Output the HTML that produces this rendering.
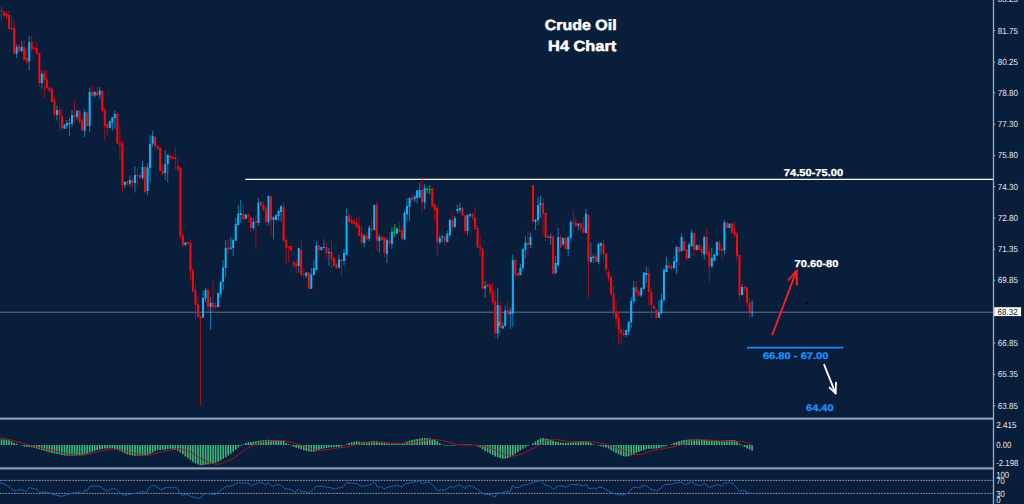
<!DOCTYPE html>
<html lang="en">
<head>
<meta charset="utf-8">
<title>Crude Oil H4 Chart</title>
<style>
html,body{margin:0;padding:0;background:#091e3b;}
body{width:1024px;height:504px;overflow:hidden;position:relative;}
svg{position:absolute;left:0;top:0;display:block;}
.ax text{font-family:"Liberation Sans","DejaVu Sans",sans-serif;font-size:8.8px;fill:#e2e6ee;text-rendering:geometricPrecision;}
.ann text{font-family:"Liberation Sans","DejaVu Sans",sans-serif;font-weight:bold;text-rendering:geometricPrecision;}
</style>
</head>
<body>
<svg width="1024" height="504" viewBox="0 0 1024 504">
<rect x="0" y="0" width="1024" height="504" fill="#091e3b"/>
<!-- current price line -->
<path d="M0 312.2H993" stroke="#64708a" stroke-width="1" fill="none"/>
<!-- resistance line -->
<path d="M245.3 179.45H993" stroke="#ffffff" stroke-width="1.25" fill="none"/>
<!-- candles -->
<g id="candles">
<path d="M1.5 5.6V20.6M4.02 10.6V17M6.54 11V19.4M9.06 11V29M11.58 16V30M14.09 20.6V54.4M19.13 45V52.5M24.17 40V60M26.69 48.75V63.75M31.73 35.6V52.5M34.24 47V50M36.76 42V54.4M39.28 53V87M44.32 70V98M46.84 70V89.4M49.36 87V93M51.88 88V102M54.39 97V118M59.43 107V131M61.95 109V130.6M74.55 101V124M79.58 110V124M82.1 118V131M87.14 112V126.5M92.18 84.4V96.5M97.21 86.9V96M102.25 90V112.5M104.77 107V140.6M107.29 123V135.6M117.36 112.5V144M119.88 125.6V158.75M122.4 140V192.5M127.44 180.5V186M132.48 178V188.75M137.52 168V187M140.03 174.5V178.75M145.07 166V193.75M155.15 136V150.6M157.67 145V150.6M160.18 147V171.5M162.7 165V175M170.26 155V160.6M172.78 154V159M175.3 148V170M177.82 158.75V172M180.33 167V238.75M182.85 233V247.5M187.89 241.5V244M190.41 240V281M192.93 268V293M195.45 285V320M197.97 296V317.5M200.49 315.5V405.6M208.04 288V312.5M213.08 280.6V312M215.6 302.5V309M228.19 239.4V253.75M243.3 205V220M248.34 212.5V222M250.86 216.5V232.5M255.9 216V249.4M260.94 201.5V206M263.46 201V212M265.97 205.6V226M271.01 196V235M283.61 203V242.5M286.12 238V264.4M288.64 245.5V262M291.16 245.5V251M293.68 261.5V268.75M296.2 259.4V273.75M301.24 240V277M303.76 268.75V278M308.79 272V290M318.87 245V257M326.43 242.5V258.75M331.46 240V268M333.98 255.6V266.5M336.5 263V268.5M341.54 259V276M349.09 213V222.5M351.61 215.5V224M354.13 218.75V225.6M356.65 218V228M359.17 216.75V236M361.69 225V245.6M366.73 232V240M371.76 218.6V231.75M376.8 201.75V250.6M381.84 236V240.5M384.36 237V258M389.4 231.75V247M399.47 222.4V232M401.99 225.5V241M412.06 194.25V201.75M422.14 177V211.75M432.21 188V208M434.73 203.6V220.5M437.25 206V256.25M444.81 236V246.25M452.37 213V231M462.44 207V216M464.96 215V233.75M472.52 213V219.9M475.03 206.75V229.5M477.55 225V248M480.07 234.4V256.25M482.59 248V290.5M487.63 283.5V287M490.15 283V295M492.67 283V304.9M495.18 290.5V338.6M500.22 301.75V328.5M507.78 301V319.25M515.34 259V277.5M517.85 272.5V276.5M527.93 231.25V254.5M532.97 185V222.5M543.04 198V235M545.56 212.5V241M548.08 235V238.5M553.12 236V274.5M560.67 235V248M565.71 236.25V250M573.27 210V235M575.79 217V227M580.82 222.5V231.25M583.34 217V233M588.38 214.4V297.75M595.94 252.6V262.5M603.49 240V261.4M606.01 253V274.5M608.53 269.5V280.75M611.05 276.5V295.6M613.57 286V317M616.09 302V326M618.61 312V344.4M621.12 327.5V344.75M623.64 329.4V337M636.24 281.25V296.25M638.76 290.75V297M648.83 267.5V306.25M651.35 288.75V318M653.87 303.75V309M656.39 309V319.4M668.98 261.9V268.5M671.5 263.75V269.75M679.06 246.5V265.6M684.09 241V251M686.61 249V260M694.17 232V256.25M699.21 243.75V250.5M701.73 246.25V256.9M706.76 227.5V256M709.28 246.25V281.9M719.36 240.6V255M721.88 246.25V259.4M726.91 221.9V228.5M731.95 223.25V233.5M734.47 221.9V237M736.99 231.9V260M739.51 254.5V299.4M744.55 285V291.25M747.06 287V307.5M749.58 298V317.5" stroke="#ff0505" stroke-width="1.0" stroke-opacity="0.62" fill="none"/>
<path d="M16.61 44.4V58M21.65 41V52.5M29.21 36V70.6M41.8 70.6V88.75M56.91 105.6V120M64.47 124V129M66.99 120V128.75M69.51 118V136M72.03 110V127M77.06 110V120M84.62 109.4V137M89.66 87.5V132M94.7 91V97.5M99.73 86.9V99.4M109.81 120.5V128.5M112.33 117V130.6M114.85 110.6V128.75M124.92 181V188M129.96 175.6V187M135 166V192.5M142.55 161V180M147.59 163V195M150.11 135V182.5M152.63 131V147M165.22 150V180M167.74 153.75V182.5M185.37 242V246.25M203 291V318M205.52 288V302M210.56 297.5V330M218.12 292V307.5M220.64 280.6V297M223.15 260V290M225.67 240V277M230.71 237V249.5M233.23 238.75V255.6M235.75 218V241M238.27 205V225.5M240.79 200V223M245.82 214V219M253.38 218V230.6M258.42 198V225.6M268.49 195.5V225.6M273.53 216.5V239.4M276.05 214.5V220.5M278.57 210V220.6M281.09 205.5V221M298.72 247.5V272.5M306.27 272V278M311.31 268V289M313.83 260V275.5M316.35 242V270.5M321.39 246.5V250.5M323.91 239.4V248.5M328.94 248V266M339.02 255V268.75M344.06 248.75V265M346.58 208.75V255.6M364.21 233.6V247M369.24 225V241M374.28 204.5V230.5M379.32 234V252.5M386.88 237.5V263M391.91 227.4V248.75M396.95 226.75V234M404.51 211V240M407.03 198V221.75M409.55 197.5V221M414.58 195V201.75M417.1 190V203.6M419.62 183V198M424.66 184.25V209.25M439.77 235V244.4M442.29 235.5V242M447.33 230.6V242.5M449.85 219V237.4M454.88 216V228.6M457.4 204.9V213.6M459.92 203V213M467.48 214.5V235M470 213.5V218M485.11 281V298M497.7 288V339.25M502.74 322.4V329M505.26 305.5V326.5M510.3 307.4V329.25M512.82 254.4V326.75M520.37 263.9V275.5M522.89 248.5V270.7M525.41 236V258M530.45 232.5V248M535.49 219V230M538 197V225M540.52 195.6V217.5M550.6 233.75V245M555.64 255.75V274.5M558.15 228V267M563.19 237.5V245.75M568.23 236.5V256.4M570.75 220V240.75M578.31 223V230M585.86 208.75V233.5M590.9 242.6V262.5M593.42 254.5V262.6M598.46 242.6V264.5M600.97 242V254.5M626.16 329.5V337M628.68 321.5V335M631.2 297.5V328M633.72 281V303.75M641.28 287V297.5M643.79 272V290M646.31 266.9V282.5M658.91 300.6V318M661.43 293V315M663.94 267.5V301.9M666.46 256.9V272.5M674.02 255.6V269.4M676.54 245.6V273.75M681.58 233.75V251.75M689.13 242.5V258.5M691.65 229.4V246.75M696.69 244.5V250.5M704.25 235.6V259.4M711.8 248V268M714.32 254V261M716.84 241.5V256M724.4 220V254.4M729.43 223.25V228.5M742.03 283.75V295.5" stroke="#08b6ff" stroke-width="1.0" stroke-opacity="0.62" fill="none"/>
<path d="M394.43 224.25V236.75M427.18 186.75V193M429.7 184.9V194.25" stroke="#14b414" stroke-width="1.0" stroke-opacity="0.9" fill="none"/>
<path d="M752.1 300.6V316.9" stroke="#08b6ff" stroke-width="1.0" stroke-opacity="0.9" fill="none"/>
<path d="M1.5 10.5V11.5M4.02 12.5V15.6M6.54 13.75V15.6M9.06 15V28.75M11.58 27.75V29.4M14.09 28V53.75M19.13 45.6V51M24.17 46.9V60M26.69 58V62.5M31.73 41.9V49.4M34.24 47.5V49M36.76 48V53.75M39.28 53V83M44.32 73V80M46.84 79.4V88M49.36 87.5V90.6M51.88 88.75V101.9M54.39 100.6V114.4M59.43 110V116M61.95 116V128M74.55 115V117M79.58 110.6V122M82.1 120.6V130.6M87.14 112.5V126M92.18 91.9V96M97.21 91.9V95.6M102.25 90.6V111M104.77 110V126M107.29 124V128M117.36 113.75V143.75M119.88 143V145M122.4 143.75V185.6M127.44 181V184.4M132.48 180V183M137.52 175V176M140.03 175V178M145.07 167V192M155.15 137V146M157.67 146V148.75M160.18 147.5V171M162.7 170.6V173.75M170.26 156V158M172.78 157V158.75M175.3 157.5V159M177.82 166V169M180.33 168V235.6M182.85 235.6V245M187.89 242V243.75M190.41 243V270.6M192.93 270.6V291.25M195.45 290.6V305M197.97 304.4V317M200.49 316V318.75M208.04 290V307M213.08 302.5V307M215.6 305V307M228.19 247.5V250M243.3 213.75V219.4M248.34 215V217M250.86 217V228M255.9 221V222.75M260.94 202V205.6M263.46 205V210M265.97 208.75V222M271.01 196.25V220M283.61 207V240.6M286.12 240V247.5M288.64 246V247.5M291.16 246V250.6M293.68 262V265M296.2 263.75V266.5M301.24 250V275M303.76 273.4V274.4M308.79 272.5V288.75M318.87 245.6V250M326.43 247V253M331.46 252V259.4M333.98 258V266M336.5 264.4V268M341.54 259.4V261M349.09 215V222M351.61 219.4V223.5M354.13 222V224M356.65 222.5V227.4M359.17 225.5V235.75M361.69 233.6V242.5M366.73 235.5V239.4M371.76 228.6V230.5M376.8 205V240.6M381.84 236.5V240M384.36 237.75V253M389.4 240.6V243.75M399.47 229.25V231.75M401.99 230.5V238.75M412.06 197.4V200M422.14 190V202.4M432.21 188.6V206M434.73 204.9V209.9M437.25 208V241.9M444.81 236.25V241.25M452.37 219.9V227.4M462.44 207.4V215.5M464.96 215.5V231M472.52 214.25V216.75M475.03 217.4V229M477.55 228V247.5M480.07 246.9V248.75M482.59 248.75V288.6M487.63 284V286.75M490.15 285.5V292.4M492.67 291.75V301.75M495.18 301V333M500.22 305.5V328M507.78 309.9V314.25M515.34 259.5V274.2M517.85 272.8V276M527.93 242.5V245M532.97 185.25V222M543.04 203V213.75M545.56 213V237.5M548.08 235.6V238M553.12 236.4V273.9M560.67 237V247.6M565.71 238V249M573.27 222V223.2M575.79 222.5V226.25M580.82 223V228M583.34 227.5V232.5M588.38 215V261.4M595.94 256.4V262M603.49 243.9V253.9M606.01 253.25V269.5M608.53 272V277.6M611.05 277V294.2M613.57 293.5V311.25M616.09 311.25V318.75M618.61 317.5V330M621.12 329.4V333M623.64 333V335M636.24 287V292M638.76 291.25V295.6M648.83 273V292M651.35 292V305M653.87 306V308.75M656.39 309.4V317.5M668.98 265.6V268M671.5 266.25V268.5M679.06 246.9V251.9M684.09 241.25V250.6M686.61 249.4V258.75M694.17 233V250M699.21 245V250M701.73 248.75V253M706.76 236.9V253.75M709.28 251.9V266.25M719.36 242.2V250M721.88 248.75V251M726.91 222.5V228M731.95 223.75V233M734.47 231.9V234.7M736.99 233.75V256.25M739.51 255V295M744.55 286.9V288.2M747.06 287.5V303M749.58 303V313" stroke="#ff0505" stroke-width="2.0" fill="none"/>
<path d="M16.61 46.9V53.75M21.65 46.9V51M29.21 41.9V61.25M41.8 73.75V83M56.91 110V115M64.47 125V128.75M66.99 123V125.6M69.51 122.75V124.4M72.03 115V123.75M77.06 111V117M84.62 112V131M89.66 91.9V126M94.7 91.9V95.6M99.73 90.6V95M109.81 121V128M112.33 117.5V122.5M114.85 114V118M124.92 182V185M129.96 180V183.75M135 175V183M142.55 167V178M147.59 167.5V191M150.11 143.75V168M152.63 136V143.75M165.22 164V173M167.74 155V164M185.37 242.5V245M203 298V317.5M205.52 290V298.75M210.56 303V307M218.12 293V307M220.64 282V293.75M223.15 267.5V282M225.67 248V268M230.71 247.5V249M233.23 240V248M235.75 223.75V240.6M238.27 213.75V225M240.79 213V215M245.82 214.4V218.75M253.38 222V228M258.42 202.5V223M268.49 196V222M273.53 217V220M276.05 215V220M278.57 211V216M281.09 206V212M298.72 248V266M306.27 272.5V276M311.31 274.4V288.75M313.83 268V275M316.35 245.6V270M321.39 247V250M323.91 247V248M328.94 252V253M339.02 259.4V267.5M344.06 253V261M346.58 216V254.4M364.21 235.75V243M369.24 227.4V238.75M374.28 205V230M379.32 236.75V241M386.88 240V253.75M391.91 231.75V243.75M396.95 228.6V233.6M404.51 213V239.4M407.03 206V214.25M409.55 198V206.75M414.58 196.75V199.25M417.1 190.5V198M419.62 190V197.4M424.66 188V202.4M439.77 238V242.5M442.29 236.25V237.5M447.33 233.75V241.9M449.85 219.9V235M454.88 218V226.75M457.4 209V211M459.92 208V209.9M467.48 214.9V231M470 214V215.5M485.11 286V288.6M497.7 304.9V333.6M502.74 326V328.6M505.26 310.5V326M510.3 311.75V314.25M512.82 260V313.6M520.37 267.8V275M522.89 248.9V268M525.41 242.5V250M530.45 237V245M535.49 219.4V222M538 205V220M540.52 203V205M550.6 237V238M555.64 263V273M558.15 237V265M563.19 238V244.5M568.23 237V249M570.75 222V237.6M578.31 223.75V225.6M585.86 213.75V233M590.9 257V262M593.42 256.4V258M598.46 243.9V262M600.97 243.25V245.75M626.16 330V335M628.68 322V331.25M631.2 300.6V322.5M633.72 287.5V301.25M641.28 288V295.6M643.79 272.5V288.75M646.31 273V275M658.91 311.9V317.75M661.43 299.4V313M663.94 270V300M666.46 265V271.9M674.02 261.25V268M676.54 246.9V261.9M681.58 236.9V251.25M689.13 244.4V258M691.65 232.5V246.25M696.69 245V250M704.25 236.9V254.4M711.8 258V266.25M714.32 254.4V260.6M716.84 241.9V255.6M724.4 222.5V250.6M729.43 223.75V228M742.03 286.9V295" stroke="#08b6ff" stroke-width="2.0" fill="none"/>
<path d="M393.23 232.4h2.4M425.98 189.5h2.4M428.5 189.5h2.4" stroke="#14b414" stroke-width="0.9" fill="none"/>
<path d="M750.9 312.25h2.4" stroke="#08b6ff" stroke-width="0.9" fill="none"/>
</g>
<rect x="498.5" y="321.8" width="1.1" height="4" fill="#d8b430" fill-opacity="0.85"/>
<!-- support line -->
<path d="M747 347.7H843.3" stroke="#1e8cf5" stroke-width="1.7" fill="none"/>
<!-- arrows -->
<g stroke="#f81e24" stroke-width="1.85" fill="none" stroke-linecap="round" stroke-linejoin="round">
<path d="M772.4 334.6L796.7 270.4"/>
<path d="M788.5 279.9L796.7 270.4L796.9 284.7"/>
</g>
<g stroke="#ffffff" stroke-width="1.85" fill="none" stroke-linecap="round" stroke-linejoin="round">
<path d="M824.2 364.8L835.6 393.4"/>
<path d="M829.6 387.6L835.6 393.4L836 382.6"/>
</g>
<circle cx="806.9" cy="302.9" r="1.05" fill="#000000"/>
<!-- MACD -->
<path d="M1.5 445V439.32M4.02 445V439.57M6.54 445V439.82M9.06 445V440.36M11.58 445V441.62M14.09 445V442.88M16.61 445V443.87M21.65 445V445.55M24.17 445V446.39M26.69 445V446.84M29.21 445V447.09M31.73 445V447.34M34.24 445V447.77M36.76 445V448.53M39.28 445V449.28M41.8 445V450.04M44.32 445V450.8M46.84 445V451.55M49.36 445V452.31M51.88 445V452.88M54.39 445V453.38M56.91 445V453.88M59.43 445V454.39M61.95 445V454.89M64.47 445V455.39M66.99 445V455.83M69.51 445V455.83M72.03 445V455.83M74.55 445V455.73M77.06 445V455.52M79.58 445V455.31M82.1 445V455.1M84.62 445V454.52M87.14 445V453.57M89.66 445V452.63M92.18 445V451.68M94.7 445V450.74M97.21 445V449.89M99.73 445V449.39M102.25 445V448.88M104.77 445V448.62M107.29 445V448.53M109.81 445V448.45M112.33 445V448.37M114.85 445V448.9M117.36 445V449.85M119.88 445V450.79M122.4 445V452.03M124.92 445V453.29M127.44 445V454.36M129.96 445V454.99M132.48 445V455.62M135 445V455.83M137.52 445V455.83M140.03 445V455.83M142.55 445V455.66M145.07 445V455.15M147.59 445V454.65M150.11 445V454.1M152.63 445V452.52M155.15 445V450.95M157.67 445V449.97M160.18 445V449.88M162.7 445V449.8M165.22 445V449.71M167.74 445V449.34M170.26 445V448.72M172.78 445V449.22M175.3 445V449.73M177.82 445V450.77M180.33 445V452.45M182.85 445V454.32M185.37 445V456.42M187.89 445V458.32M190.41 445V460M192.93 445V461.67M195.45 445V463.35M197.97 445V464.51M200.49 445V465.18M203 445V465.28M205.52 445V464.86M208.04 445V464.46M210.56 445V464.08M213.08 445V463.7M215.6 445V462.7M218.12 445V461.63M220.64 445V460.44M223.15 445V458.86M225.67 445V457.29M228.19 445V455.52M230.71 445V453.63M233.23 445V451.74M235.75 445V449.65M238.27 445V447.56M240.79 445V445.66M243.3 445V444.18M245.82 445V442.92M248.34 445V442.29M250.86 445V441.98M253.38 445V441.66M255.9 445V441.26M258.42 445V440.85M260.94 445V440.45M263.46 445V440.15M265.97 445V439.9M268.49 445V439.68M271.01 445V439.88M273.53 445V440.08M276.05 445V440.28M278.57 445V440.48M281.09 445V440.66M283.61 445V441.04M286.12 445V442.93M288.64 445V444.32M291.16 445V445.58M293.68 445V446.84M296.2 445V447.86M298.72 445V448.62M301.24 445V449.37M303.76 445V450.11M306.27 445V450.74M308.79 445V451.37M311.31 445V451.67M313.83 445V451.67M316.35 445V450.99M318.87 445V449.73M321.39 445V448.89M323.91 445V448.39M326.43 445V447.88M328.94 445V447.46M331.46 445V447.31M333.98 445V447.16M336.5 445V447.01M339.02 445V447.12M341.54 445V446.5M344.06 445V445.41M346.58 445V444.21M349.09 445V442.95M351.61 445V442.22M354.13 445V441.78M356.65 445V441.34M359.17 445V441.67M361.69 445V442M364.21 445V441.87M366.73 445V441.75M369.24 445V441.55M371.76 445V441.24M374.28 445V440.92M376.8 445V441.28M379.32 445V441.91M381.84 445V442.53M384.36 445V442.97M386.88 445V443.41M389.4 445V443.61M391.91 445V443.49M394.43 445V443.36M396.95 445V443.33M399.47 445V443.33M401.99 445V443.23M404.51 445V442.39M407.03 445V441.56M409.55 445V440.8M412.06 445V440.05M414.58 445V439.42M417.1 445V438.91M419.62 445V438.41M422.14 445V438.23M424.66 445V438.1M427.18 445V438.04M429.7 445V438.24M432.21 445V438.93M434.73 445V440M437.25 445V441.22M439.77 445V442.9M442.29 445V444.48M444.81 445V445.74M447.33 445V445.83M449.85 445V445.83M452.37 445V445.83M454.88 445V445.57M462.44 445V444.45M464.96 445V444.29M467.48 445V444.23M470 445V444.17M477.55 445V446.44M480.07 445V447.55M482.59 445V449.23M485.11 445V450.89M487.63 445V452.15M490.15 445V453.42M492.67 445V454.93M495.18 445V456.39M497.7 445V457.23M500.22 445V458.04M502.74 445V458.55M505.26 445V458.41M507.78 445V458.07M510.3 445V457.28M512.82 445V455.39M515.34 445V453.67M517.85 445V451.99M520.37 445V450.31M522.89 445V448.63M525.41 445V447.29M527.93 445V446.04M532.97 445V443.29M535.49 445V441.38M538 445V439.86M540.52 445V438.54M543.04 445V437.91M545.56 445V438.43M548.08 445V439.1M550.6 445V439.92M553.12 445V440.76M555.64 445V441.41M558.15 445V442.04M560.67 445V442.55M563.19 445V442.74M565.71 445V442.93M568.23 445V442.69M570.75 445V442.18M573.27 445V441.68M575.79 445V441.48M578.31 445V441.29M580.82 445V441.17M583.34 445V441.17M585.86 445V441.17M588.38 445V441.91M590.9 445V443M593.42 445V444.21M598.46 445V445.81M600.97 445V446.36M603.49 445V446.87M606.01 445V447.37M608.53 445V448.56M611.05 445V449.98M613.57 445V451.47M616.09 445V452.99M618.61 445V454.3M621.12 445V455.56M623.64 445V456.16M626.16 445V456.58M628.68 445V456.16M631.2 445V455.23M633.72 445V453.97M636.24 445V452.87M638.76 445V451.92M641.28 445V450.98M643.79 445V450.14M646.31 445V449.32M648.83 445V448.67M651.35 445V448.67M653.87 445V448.67M656.39 445V448.42M658.91 445V447.98M661.43 445V447.54M663.94 445V446.74M666.46 445V445.9M671.5 445V444.25M674.02 445V442.99M676.54 445V442.01M679.06 445V441.2M681.58 445V440.56M684.09 445V440.12M686.61 445V439.68M689.13 445V439.54M691.65 445V439.42M694.17 445V439.29M696.69 445V439.17M699.21 445V439.42M701.73 445V439.67M704.25 445V439.92M706.76 445V440.18M709.28 445V440.43M711.8 445V440.68M714.32 445V440.83M716.84 445V440.83M719.36 445V440.83M721.88 445V440.81M724.4 445V440.49M726.91 445V440.18M729.43 445V440M731.95 445V440M734.47 445V440M736.99 445V441.49M739.51 445V443.68M742.03 445V445.6M744.55 445V446.92M747.06 445V448.49M749.58 445V449.5M752.1 445V450.65" stroke="#3cb878" stroke-width="1.6" fill="none"/>
<polyline points="0,437.5 10,439.67 20,442.5 30,445.33 40,447.5 50,450 60,452.17 70,454.5 76.67,455.33 85,455 93.33,452.83 101.67,450.5 111.67,449.17 118.33,449.17 126.67,451.33 135,453.33 143.33,455.33 150,455.33 158.33,452.83 168.33,450.33 170,450.5 175,448.67 181.67,449.17 190,451.67 196.67,455.83 203.33,460 211.67,463.67 220,464.17 226.67,461.33 233.33,458.33 240,453.33 246.67,448.67 253.33,445 260,442.5 270,440.83 278.33,440.33 284.17,440.5 290,442.17 298.33,444.17 306.67,447.5 315,450 321.67,450.5 330,449.17 338.33,447.83 340,447.83 346.67,447 353.33,445.33 360,443.67 368.33,442.5 375,442.17 383.33,442.17 390,443 398.33,443.67 406.67,443.33 413.33,442.5 421.67,440.83 430,439.5 436.67,439.5 443.33,440.83 450,442.5 456.67,444.5 465,445 473.33,445 481.67,445.5 488.33,447.5 495,450 501.67,453.33 506.67,455.33 510,456.33 516.67,455.5 523.33,453.33 530,450 536.67,446.67 543.33,442.5 549.17,439.67 556.67,439.67 565,440.83 571.67,442.17 580,442 588.33,441.33 596.67,442.5 605,444.17 613.33,446.67 621.67,450 628.33,452.83 634.17,454.67 641.67,454.5 648.33,451.67 655,450 663.33,448.67 671.67,447.17 679.17,445.33 680,445.33 686.67,442.5 695,440 703.33,439.67 713.33,440.33 723.33,441.33 733.33,441.33 741.67,441.33 746.67,442.5 752.5,445" stroke="#a8181c" stroke-width="0.95" fill="none" stroke-linejoin="round"/>
<!-- RSI -->
<path d="M0 480.4H993M0 493.4H993" stroke="#a6aab6" stroke-width="0.85" stroke-dasharray="1.7 1.08" fill="none"/>
<polyline points="0,482.5 5,484.17 10,487.5 14.17,490.83 17.5,490 21.67,489.67 25.83,491.67 29.17,487.5 33.33,488.67 36.67,489.17 40,492.83 42.5,491.67 48.33,492.83 55,495 61.67,496.33 66.67,495 73.33,492.83 78.33,492.17 82.5,493.67 85,490 86.67,491.17 90,486.33 95,486 100,486.33 103.33,489.17 106.67,491.17 110.83,489.17 115,488.33 118.33,491.67 123.33,495.33 128.33,494.5 133.33,493.67 138.33,492.83 142.5,491.33 145.83,493.33 149.17,487.5 152.5,485.33 156.67,486.67 160.83,489.67 165,488 169.17,487.17 170,487.83 176.67,487.5 179.17,491.67 181.67,495.33 186.67,494.5 191.67,496.67 196.67,498 200,498.33 203.33,494.17 208.33,493.67 215,494.67 220,490.83 225.83,486.67 231.67,485.83 238.33,482.5 243.33,483.33 246.67,482.5 251.67,485.33 255.83,484.17 259.17,482 263.33,483.33 265.83,485 268.33,483 272.5,486.33 276.67,484.67 280.83,484.67 284.17,488.67 290,489.17 295,492 298.33,489.17 301.67,491.67 305.83,491.67 309.17,492.83 313.33,489.17 316.67,486.33 321.67,486.17 326.67,487 331.67,488 335.83,489.17 339.17,487.5 340,488 343.33,486.67 346.67,482.5 351.67,483 356.67,483.67 361.67,486.33 366.67,485.83 371.67,484.17 374.17,481.67 377.5,487 380.83,486.67 384.17,488.83 390,486.67 397.5,485.33 402,487 405,483.67 411.67,482.5 418.33,480.83 422.5,483.33 426.67,482.17 430,482.5 433.33,485.83 437.5,490.83 441.67,489.67 445,490.33 450,486.33 452.5,487.83 459.17,484.5 465,488.33 468.33,485.83 472.5,486.17 478.33,490 483.33,494.17 490,494.5 495,497 497.5,492.5 500,493.67 505,491.67 509.17,491.67 510,492 512.5,485.33 515,487.5 518.33,487.5 523.33,485 528.33,484.17 533.33,482.5 538.33,480.83 541.67,481.17 545,485 550,486.17 553.33,489.5 558.33,485.83 563.33,486.17 565.83,487.17 570.83,484.5 578.33,484.5 583.33,485.83 585.83,484.17 589.17,488.83 593.33,488 595.83,488.83 599.17,487.17 602.5,487.5 608.33,490.83 613.33,493.33 618.33,494.67 623.33,495 628.33,492.83 632.5,487.83 635,487 638.33,488 643.33,485.5 646.67,485.83 650.83,489.17 656.67,490.83 660.83,488.33 665,484.5 671.67,484.17 676.67,482.5 679.17,482.5 680,482 685.83,484.67 691.33,482 695,484.5 700.83,485.5 704.17,483.33 709.67,487.5 717.5,484.5 721.67,486.17 725,482.5 727.5,483.33 729.67,482.5 734.17,484.67 739.67,491.67 742.5,490.33 745,490.83 748.33,492.83 751.67,493.33" stroke="#1b5eaa" stroke-width="1" fill="none" stroke-linejoin="round"/>
<!-- separators -->
<path d="M0 418.6H993M0 468.4H993" stroke="#9199ad" stroke-width="2.4" fill="none"/>
<!-- axis -->
<path d="M993.5 0V504" stroke="#a2aabd" stroke-width="1.3" fill="none"/>
<path d="M994 -0.8h1.2M994 30.5h1.2M994 62h1.2M994 93h1.2M994 124.2h1.2M994 155.3h1.2M994 186.6h1.2M994 218h1.2M994 249.2h1.2M994 280.2h1.2M994 343h1.2M994 374.3h1.2M994 405.8h1.2" stroke="#aab2c4" stroke-width="1" fill="none"/>
<rect x="994.2" y="307.2" width="26.9" height="8.9" fill="#ffffff"/>
<g class="ax">
<text x="997.7" y="2.2" textLength="20.2" lengthAdjust="spacingAndGlyphs">83.25</text>
<text x="997.7" y="33.5" textLength="20.2" lengthAdjust="spacingAndGlyphs">81.75</text>
<text x="997.7" y="65" textLength="20.2" lengthAdjust="spacingAndGlyphs">80.25</text>
<text x="997.7" y="96" textLength="20.2" lengthAdjust="spacingAndGlyphs">78.80</text>
<text x="997.7" y="127.2" textLength="20.2" lengthAdjust="spacingAndGlyphs">77.30</text>
<text x="997.7" y="158.3" textLength="20.2" lengthAdjust="spacingAndGlyphs">75.80</text>
<text x="997.7" y="189.6" textLength="20.2" lengthAdjust="spacingAndGlyphs">74.30</text>
<text x="997.7" y="221" textLength="20.2" lengthAdjust="spacingAndGlyphs">72.80</text>
<text x="997.7" y="252.2" textLength="20.2" lengthAdjust="spacingAndGlyphs">71.35</text>
<text x="997.7" y="283.2" textLength="20.2" lengthAdjust="spacingAndGlyphs">69.85</text>
<text x="997.7" y="346" textLength="20.2" lengthAdjust="spacingAndGlyphs">66.85</text>
<text x="997.7" y="377.3" textLength="20.2" lengthAdjust="spacingAndGlyphs">65.35</text>
<text x="997.7" y="408.8" textLength="20.2" lengthAdjust="spacingAndGlyphs">63.85</text>
<text x="996.2" y="428.2" textLength="20.2" lengthAdjust="spacingAndGlyphs">2.415</text>
<text x="996.2" y="448" textLength="15.1" lengthAdjust="spacingAndGlyphs">0.00</text>
<text x="996.2" y="466" textLength="22.3" lengthAdjust="spacingAndGlyphs">-2.198</text>
<text x="996.2" y="477.9" textLength="13" lengthAdjust="spacingAndGlyphs">100</text>
<text x="996.2" y="483.6" textLength="8.7" lengthAdjust="spacingAndGlyphs">70</text>
<text x="996.2" y="496.8" textLength="8.7" lengthAdjust="spacingAndGlyphs">30</text>
<text x="996.2" y="502.6" textLength="4.4" lengthAdjust="spacingAndGlyphs">0</text>
<text x="997.6" y="315.1" style="fill:#0a1e3c" textLength="20.2" lengthAdjust="spacingAndGlyphs">68.32</text>
</g>
<g class="ann">
<text x="544.8" y="29.5" font-size="14.8" fill="#ffffff" stroke="#ffffff" stroke-width="0.5" textLength="71.8" lengthAdjust="spacingAndGlyphs">Crude Oil</text>
<text x="548.1" y="51" font-size="14.8" fill="#ffffff" stroke="#ffffff" stroke-width="0.5" textLength="68.2" lengthAdjust="spacingAndGlyphs">H4 Chart</text>
<text x="783.8" y="175.5" font-size="10.1" fill="#ffffff" stroke="#ffffff" stroke-width="0.3" textLength="59.4" lengthAdjust="spacingAndGlyphs">74.50-75.00</text>
<text x="794.6" y="266.7" font-size="9.9" fill="#ffffff" stroke="#ffffff" stroke-width="0.3" textLength="43.9" lengthAdjust="spacingAndGlyphs">70.60-80</text>
<text x="762.9" y="359.4" font-size="9.5" fill="#1e8ffa" stroke="#1e8ffa" stroke-width="0.3" textLength="65.6" lengthAdjust="spacingAndGlyphs">66.80 - 67.00</text>
<text x="806.1" y="411" font-size="9.5" fill="#1e8ffa" stroke="#1e8ffa" stroke-width="0.3" textLength="27.5" lengthAdjust="spacingAndGlyphs">64.40</text>
</g>
</svg>
</body>
</html>
